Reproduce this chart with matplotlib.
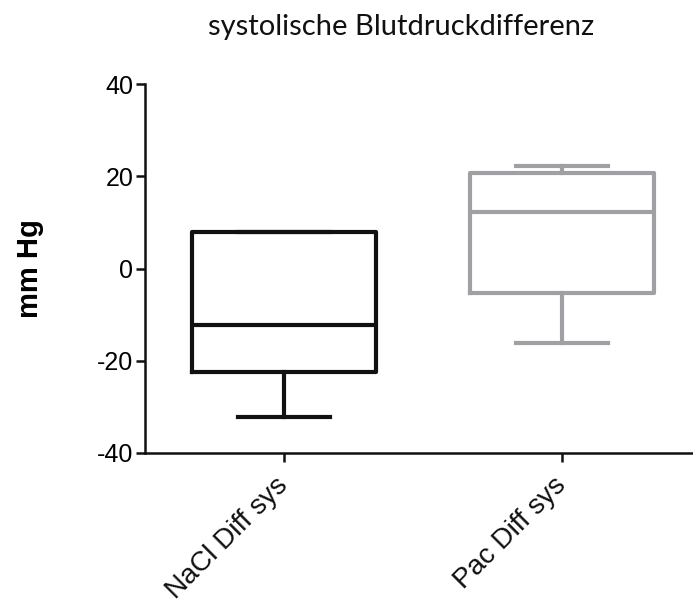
import matplotlib
matplotlib.use("Agg")
import matplotlib.pyplot as plt
import matplotlib.transforms as mtransforms

categories = ["NaCl Diff sys", "Pac Diff sys"]
whisker_low = [-32.2, -16.1]
q1 = [-22.4, -5.4]
median = [-12.2, 12.2]
q3 = [8.0, 20.8]
whisker_high = [8.0, 22.2]
colors = ["#111111", "#a0a0a4"]
yticks = [-40, -20, 0, 20, 40]

fig = plt.figure(figsize=(6.93, 6.04), dpi=100)
ax = fig.add_axes([145/693, 1-453/604, 1-145/693, (453-84)/604])

for i in range(len(categories)):
    st = dict(whislo=whisker_low[i], q1=q1[i], med=median[i], q3=q3[i],
              whishi=whisker_high[i], fliers=[], label=categories[i])
    c = colors[i]
    lw = 3.0
    ax.bxp([st], positions=[i], widths=0.66, showfliers=False,
           boxprops=dict(color=c, linewidth=lw, solid_joinstyle="round"),
           medianprops=dict(color=c, linewidth=lw),
           whiskerprops=dict(color=c, linewidth=lw),
           capprops=dict(color=c, linewidth=lw),
           capwidths=0.33, manage_ticks=False)

ax.set_xlim(-0.5, 1.47)
ax.set_ylim(-40, 40)
ax.set_yticks(yticks)
ax.set_yticklabels([str(v) for v in yticks])
ax.set_xticks(range(len(categories)))
ax.set_xticklabels([""] * len(categories))
offset = mtransforms.ScaledTranslation(-9/100, -19/100, fig.dpi_scale_trans)
for i, name in enumerate(categories):
    ax.text(i, 0, name, transform=ax.get_xaxis_transform() + offset,
            rotation=45, ha="right", va="top", rotation_mode="anchor",
            fontsize=20, family="Liberation Sans", color="#111111", clip_on=False)
for lab in ax.get_yticklabels():
    lab.set_fontsize(18)
    lab.set_family("Liberation Sans")

for s in ["top", "right"]:
    ax.spines[s].set_visible(False)
for s in ["left", "bottom"]:
    ax.spines[s].set_linewidth(1.8)
    ax.spines[s].set_color("#111111")
ax.tick_params(axis="y", width=1.8, length=6.5, color="#111111", pad=2)
ax.tick_params(axis="x", width=1.8, length=6.5, color="#111111", pad=7)

ax.set_ylabel("mm Hg", fontsize=21, fontweight="bold", family="Liberation Sans")
ax.yaxis.set_label_coords(-0.185, 0.5)

fig.text(401/693, 1-27/604, "systolische Blutdruckdifferenz", ha="center", va="center",
         fontsize=21, family="Lato", color="#111111")

fig.savefig("out.png", dpi=100)
